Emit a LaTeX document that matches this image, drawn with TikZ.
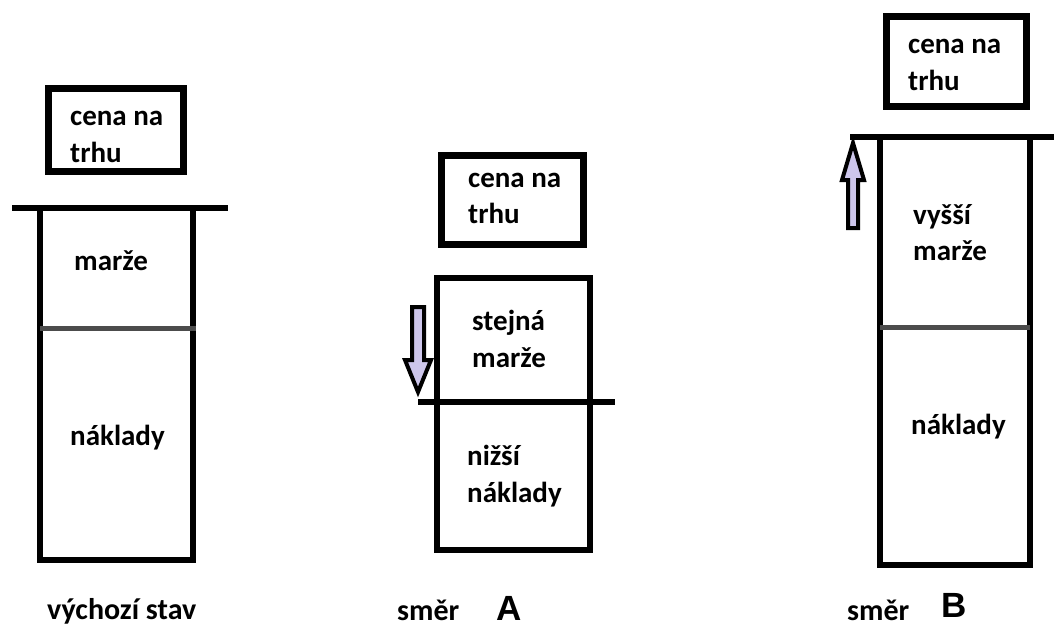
\documentclass[tikz,border=0pt]{standalone}
\usepackage{fontspec}
\setmainfont{Carlito}
\newfontfamily\letterfont{Liberation Sans}
\begin{document}
\begin{tikzpicture}[x=1pt,y=-1pt,
  thick line/.style={line width=6pt},
  mid line/.style={line width=5pt,black!70},
  pricebox/.style={draw,line width=7pt},
  lbl/.style={font=\bfseries\fontsize{29}{36}\selectfont,inner sep=0pt,anchor=base west},
  caption/.style={font=\bfseries\fontsize{30}{34}\selectfont,inner sep=0pt,anchor=base west},
  bigletter/.style={font=\letterfont\bfseries\fontsize{35}{40}\selectfont,inner sep=0pt,anchor=base west},
  hollowarrow/.style={draw,line width=4pt,fill=arrowfill,line join=miter}]
\definecolor{arrowfill}{RGB}{205,198,235}
\useasboundingbox (0,0) rectangle (1054,627);

% --- initial state ---
\draw[pricebox] (48.5,88.5) rectangle (183.5,171.5);
\node[lbl] (c1a) at (70,125) {cena na};
\node[lbl] (c1b) at (70,162) {trhu};
\draw[thick line] (40,208) -- (40,560) -- (193,560) -- (193,208);
\draw[thick line] (12,208) -- (228,208);
\draw[mid line] (40,328) -- (196,328);
\node[lbl] (m1) at (74,270) {marže};
\node[lbl] (n1) at (70,445) {náklady};
\node[caption] (s1) at (47,619) {výchozí stav};

% --- direction A ---
\draw[pricebox] (441.5,155.5) rectangle (583.5,244.5);
\node[lbl] (c2a) at (468,187) {cena na};
\node[lbl] (c2b) at (468,223) {trhu};
\draw[thick line] (437,278) rectangle (590,550);
\draw[thick line] (418,402) -- (615,402);
\node[lbl] (m2a) at (472,330) {stejná};
\node[lbl] (m2b) at (472,367) {marže};
\node[lbl] (n2a) at (467,465) {nižší};
\node[lbl] (n2b) at (467,502) {náklady};
\draw[hollowarrow] (412,307) -- (424,307) -- (424,360) -- (431,360) -- (418,392)
  -- (405,360) -- (412,360) -- cycle;
\node[caption] (s2) at (397,620) {směr};
\node[bigletter] (a2) at (496,620) {A};

% --- direction B ---
\draw[pricebox] (886.5,16.5) rectangle (1026.5,106.5);
\node[lbl] (c3a) at (908,53) {cena na};
\node[lbl] (c3b) at (908,90) {trhu};
\draw[thick line] (880,137) -- (880,565) -- (1030,565) -- (1030,137);
\draw[thick line] (850,137) -- (1054,137);
\draw[mid line] (880,327) -- (1030,327);
\node[lbl] (m3a) at (913,224) {vyšší};
\node[lbl] (m3b) at (913,260) {marže};
\node[lbl] (n3) at (911,434) {náklady};
\draw[hollowarrow] (848,228) -- (858,228) -- (858,180) -- (864,180) -- (853,143)
  -- (842,180) -- (848,180) -- cycle;
\node[caption] (s3) at (847,620) {směr};
\node[bigletter] (b3) at (941,617) {B};
\end{tikzpicture}
\end{document}
